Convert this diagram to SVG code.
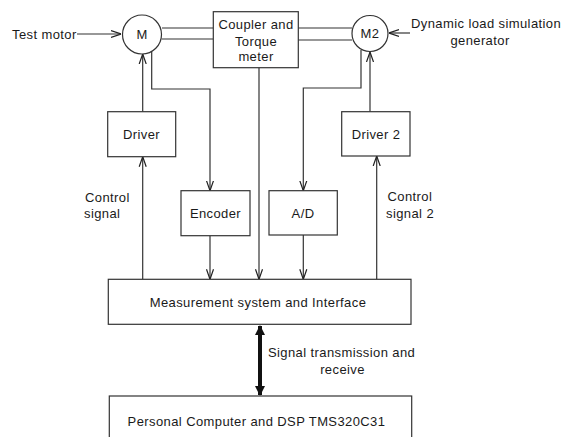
<svg xmlns="http://www.w3.org/2000/svg" width="561" height="437" viewBox="0 0 561 437">
<defs>
<marker id="ah" viewBox="0 0 10 10" refX="10" refY="5" markerWidth="10" markerHeight="10" markerUnits="userSpaceOnUse" orient="auto">
<path d="M0,1.5 L10,5 L0,8.5" fill="none" stroke="#222" stroke-width="1.2"/>
</marker>
<marker id="thick" viewBox="0 0 10 10" refX="9" refY="5" markerWidth="14" markerHeight="10" markerUnits="userSpaceOnUse" orient="auto-start-reverse">
<path d="M0,0 L10,5 L0,10 Z" fill="#111"/>
</marker>
<style>
rect,circle{fill:#fff;stroke:#333;stroke-width:1.2}
text{font-family:"Liberation Sans",Arial,sans-serif;font-size:13px;letter-spacing:0.4px;fill:#1a1a1a}
.c{text-anchor:middle}
.ln{fill:none;stroke:#333;stroke-width:1.2}
.arr{marker-end:url(#ah)}
</style>
</defs>
<g id="connectors">
<path class="ln arr" d="M77,34 H121"/>
<path class="ln arr" d="M410,33 H389"/>
<path class="ln" d="M162,28 H213 M162,39 H213"/>
<path class="ln" d="M298,28 H352 M298,40 H352"/>
<path class="ln arr" d="M151.7,51 V89 H210 V190.7"/>
<path class="ln arr" d="M361,50 V88 H303.3 V190.7"/>
<path class="ln arr" d="M142.7,111.7 V54"/>
<path class="ln arr" d="M370,111.7 V52"/>
<path class="ln arr" d="M259,67.7 V279.3"/>
<path class="ln arr" d="M210,235.7 V279.3"/>
<path class="ln arr" d="M303.3,235 V279.3"/>
<path class="ln arr" d="M142.7,279.3 V156.7"/>
<path class="ln arr" d="M376.7,279.3 V156"/>
<path d="M260,326 V395" fill="none" stroke="#111" stroke-width="4" marker-start="url(#thick)" marker-end="url(#thick)"/>
</g>
<g id="test-motor-label"><text x="12" y="38.5">Test motor</text></g>
<g id="M"><circle cx="142" cy="34.5" r="19.5"/><text class="c" x="142" y="39">M</text></g>
<g id="coupler"><rect x="213.3" y="11.7" width="85" height="56"/>
<text class="c" x="256" y="28.5">Coupler and</text>
<text class="c" x="256" y="46">Torque</text>
<text class="c" x="256" y="61">meter</text></g>
<g id="M2"><circle cx="370" cy="33.5" r="18"/><text class="c" x="370" y="38">M2</text></g>
<g id="dynamic-label"><text x="411" y="28">Dynamic load simulation</text>
<text class="c" x="480" y="45">generator</text></g>
<g id="driver"><rect x="107.7" y="111.7" width="68" height="45"/><text class="c" x="141.5" y="139">Driver</text></g>
<g id="driver2"><rect x="341.7" y="111.7" width="68.3" height="44.3"/><text class="c" x="376" y="138.5">Driver 2</text></g>
<g id="encoder"><rect x="181" y="190.7" width="69" height="45"/><text class="c" x="215.5" y="217.5">Encoder</text></g>
<g id="ad"><rect x="269" y="190.7" width="68.3" height="44.3"/><text class="c" x="303" y="217.5">A/D</text></g>
<g id="control-signal-label"><text x="85" y="202">Control</text><text x="84" y="217.5">signal</text></g>
<g id="control-signal2-label"><text x="387.5" y="201">Control</text><text x="386" y="217.5">signal 2</text></g>
<g id="measurement"><rect x="108.3" y="279.3" width="302.7" height="45"/><text class="c" x="258" y="307">Measurement system and Interface</text></g>
<g id="signal-label"><text x="268" y="356.5">Signal transmission and</text><text class="c" x="342.5" y="373.5">receive</text></g>
<g id="pc"><rect x="109.3" y="396" width="302.4" height="50"/><text class="c" x="256.5" y="426">Personal Computer and DSP TMS320C31</text></g>
</svg>
